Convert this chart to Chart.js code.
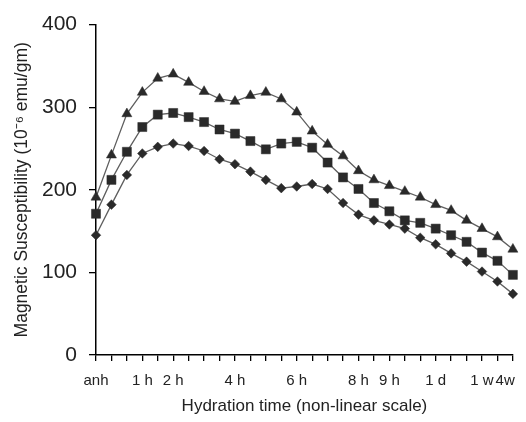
<!DOCTYPE html>
<html>
<head>
<meta charset="utf-8">
<script src="https://cdn.jsdelivr.net/npm/chart.js@4/dist/chart.umd.min.js"></script>
<style>
  html, body { margin: 0; padding: 0; background: #fff; }
  #wrap { width: 526px; height: 422px; }
</style>
</head>
<body>
<div id="wrap"><canvas id="c" width="526" height="422"></canvas></div>
<script>
// 28 hydration time points (non-linear scale), index positions 0..27
const pointCount = 28;
const tickLabelText = ['anh', '1 h', '2 h', '4 h', '6 h', '8 h', '9 h', '1 d', '1 w', '4w'];
const tickLabelAt   = [0, 3, 5, 9, 13, 17, 19, 22, 25, 26.5];

const seriesTriangle = [191, 242, 292, 318, 335, 340, 330, 319, 310, 307, 314, 318, 310, 294,
                        271, 255, 241, 223, 212, 205, 198, 191, 182, 175, 163, 153, 143, 128];
const seriesSquare   = [171, 212, 246, 276, 291, 293, 288, 282, 273, 268, 259, 249, 256, 258,
                        251, 233, 215, 201, 184, 174, 163, 160, 153, 145, 137, 124, 114, 97];
const seriesDiamond  = [145, 182, 218, 244, 252, 256, 253, 247, 237, 231, 222, 212, 202, 204,
                        207, 201, 184, 170, 163, 158, 153, 142, 134, 123, 113, 101, 89, 74];

const yTicks = [0, 100, 200, 300, 400];

const toPoints = arr => arr.map((v, i) => ({ x: i, y: v }));
const lineColor = '#5e5e5e';
const markColor = '#2a2a2a';
const textColor = '#222';
const FONT = "'Liberation Sans', Arial, sans-serif";

function ds(data, style, radius) {
  return {
    data: toPoints(data),
    clip: false,
    borderColor: lineColor,
    borderWidth: 1.3,
    pointStyle: style,
    pointRadius: radius,
    pointHoverRadius: radius,
    pointBackgroundColor: markColor,
    pointBorderColor: markColor,
    pointBorderWidth: 0.5,
    tension: 0,
    fill: false
  };
}

new Chart(document.getElementById('c'), {
  type: 'line',
  data: {
    datasets: [
      ds(seriesTriangle, 'triangle', 5.8),
      ds(seriesSquare, 'rect', 6.4),
      ds(seriesDiamond, 'rectRot', 4.8)
    ]
  },
  options: {
    responsive: false,
    animation: false,
    devicePixelRatio: 1,
    layout: { padding: { top: 23, right: 10, left: 0, bottom: 0 } },
    plugins: { legend: { display: false }, tooltip: { enabled: false } },
    scales: {
      x: {
        type: 'linear', position: 'bottom', weight: 0,
        min: 0, max: pointCount - 1,
        afterBuildTicks: s => { s.ticks = Array.from({ length: pointCount }, (_, i) => ({ value: i })); },
        ticks: { display: false },
        grid: { drawOnChartArea: false, drawTicks: true, tickLength: 6, color: '#000', lineWidth: 1.3 },
        border: { color: '#000', width: 1.5 },
        afterFit: s => { s.height = 6; }
      },
      xl: {
        type: 'linear', position: 'bottom', weight: 1,
        min: 0, max: pointCount - 1,
        afterBuildTicks: s => { s.ticks = tickLabelAt.map(v => ({ value: v })); },
        ticks: {
          autoSkip: false, maxRotation: 0, minRotation: 0, padding: 11,
          color: textColor, font: { family: FONT, size: 15 },
          callback: (v, i) => tickLabelText[i]
        },
        grid: { display: false, drawTicks: false },
        border: { display: false },
        title: {
          display: true, text: 'Hydration time (non-linear scale)',
          color: textColor, font: { family: FONT, size: 17 },
          padding: { top: 0, bottom: 5 }
        },
        afterFit: s => { s.height = 61; }
      },
      y: {
        min: 0, max: 400,
        afterBuildTicks: s => { s.ticks = yTicks.map(v => ({ value: v })); },
        ticks: { color: textColor, font: { family: FONT, size: 21 }, padding: 12 },
        grid: { drawOnChartArea: false, drawTicks: true, tickLength: 7, color: '#000', lineWidth: 1.3 },
        border: { color: '#000', width: 1.5 },
        title: {
          display: true, text: 'Magnetic Susceptibility (10⁻⁶ emu/gm)',
          color: textColor, font: { family: FONT, size: 17.5 },
          padding: { top: 12, bottom: 0 }
        },
        afterFit: s => { s.width = 96; }
      }
    }
  }
});
</script>
</body>
</html>
